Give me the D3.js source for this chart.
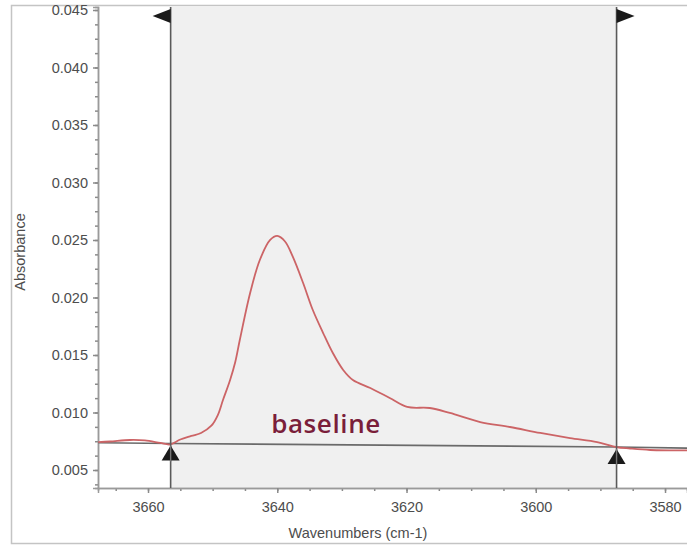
<!DOCTYPE html>
<html>
<head>
<meta charset="utf-8">
<script src="https://cdn.jsdelivr.net/npm/d3@7"></script>
<style>
body { margin: 0; background: #fff; }
svg { display: block; }
</style>
</head>
<body>
<div id="chart"></div>
<script>
// spectrum: wavenumber (cm-1), absorbance
let wavenumbers = [3667.7, 3665.9, 3662.8, 3660.5, 3658.1, 3656.6, 3655.0, 3653.3, 3651.8, 3650.2,
  3649.2, 3648.4, 3647.3, 3646.5, 3645.8, 3644.2, 3642.7, 3641.1, 3640.0, 3638.8,
  3637.6, 3636.0, 3634.5, 3632.9, 3631.4, 3629.8, 3628.3, 3625.6, 3622.6, 3619.9,
  3616.4, 3613.3, 3608.6, 3604.0, 3599.3, 3594.7, 3590.5, 3587.6, 3585.4, 3582.3, 3576.6];
let absorbance = [0.00743, 0.00748, 0.00761, 0.00757, 0.00735, 0.00722, 0.00765, 0.00796, 0.00822, 0.00885,
  0.00978, 0.01109, 0.01283, 0.01439, 0.01630, 0.02039, 0.02326, 0.02500, 0.02535, 0.02487,
  0.02355, 0.02126, 0.01891, 0.01691, 0.01517, 0.01370, 0.01283, 0.01213, 0.01126, 0.01048,
  0.01039, 0.00996, 0.00917, 0.00874, 0.00822, 0.00778, 0.00743, 0.00700, 0.00687, 0.00674, 0.00670];
let baselineWn = [3667.7, 3656.5, 3587.5, 3576.6];
let baselineAbs = [0.00737, 0.00731, 0.00700, 0.00690];
let regionLimits = [3656.5, 3587.5];
let xTicks = [3660, 3640, 3620, 3600, 3580];
let yTicks = [0.005, 0.010, 0.015, 0.020, 0.025, 0.030, 0.035, 0.040, 0.045];

let width = 687;
let height = 546;
let plotLeft = 98, plotRight = 687, plotTop = 7, plotBottom = 488;

let svg = d3.select("#chart")
  .append("svg")
  .attr("width", width)
  .attr("height", height);

// outer frame
svg.append("rect")
  .attr("x", 11.5).attr("y", 5.5)
  .attr("width", 700).attr("height", 538)
  .attr("fill", "#fff")
  .attr("stroke", "#c4c4c4")
  .attr("stroke-width", 1.5);

let x = d3.scaleLinear().domain([3667.74, 3576.6]).range([plotLeft, plotRight]);
let y = d3.scaleLinear().domain([0.003435, 0.04526]).range([plotBottom, plotTop]);

// shaded integration region
svg.append("rect")
  .attr("x", x(regionLimits[0]))
  .attr("y", plotTop)
  .attr("width", x(regionLimits[1]) - x(regionLimits[0]))
  .attr("height", plotBottom - plotTop)
  .attr("fill", "#f0f0f0");

// minor ticks
let xMinor = d3.range(3665, 3575, -5);
let yMinor = d3.range(0.00375, 0.0455, 0.00125);

let xAxisMinor = svg.append("g")
  .attr("transform", "translate(0," + plotBottom + ")")
  .call(d3.axisBottom(x).tickValues(xMinor).tickSize(3).tickFormat(""));
let yAxisMinor = svg.append("g")
  .attr("transform", "translate(" + plotLeft + ",0)")
  .call(d3.axisLeft(y).tickValues(yMinor).tickSize(3).tickFormat(""));

let xAxis = svg.append("g")
  .attr("transform", "translate(0," + plotBottom + ")")
  .call(d3.axisBottom(x).tickValues(xTicks).tickSize(5).tickPadding(9).tickFormat(d3.format("d")));
let yAxis = svg.append("g")
  .attr("transform", "translate(" + plotLeft + ",0)")
  .call(d3.axisLeft(y).tickValues(yTicks).tickSize(5).tickPadding(5).tickFormat(d3.format(".3f")));

[xAxis, yAxis, xAxisMinor, yAxisMinor].forEach(function(g) {
  g.select(".domain").attr("stroke", "#9a9a9a").attr("stroke-width", 1.5);
  g.selectAll(".tick line").attr("stroke", "#8a8a8a").attr("stroke-width", 1.5);
  g.selectAll(".tick text")
    .attr("fill", "#4d4d4d")
    .style("font-family", "'Liberation Sans', Arial, sans-serif")
    .style("font-size", "14.5px");
});

// baseline
let line = d3.line().x(function(d) { return x(d[0]); }).y(function(d) { return y(d[1]); });
svg.append("path")
  .datum(d3.zip(baselineWn, baselineAbs))
  .attr("d", line)
  .attr("fill", "none")
  .attr("stroke", "#6a6a6a")
  .attr("stroke-width", 1.6);

// spectrum
svg.append("path")
  .datum(d3.zip(wavenumbers, absorbance))
  .attr("d", line.curve(d3.curveCatmullRom))
  .attr("fill", "none")
  .attr("stroke", "#cc6466")
  .attr("stroke-width", 1.8);

// region limit lines and markers
regionLimits.forEach(function(w, i) {
  let px = x(w);
  svg.append("line")
    .attr("x1", px).attr("x2", px)
    .attr("y1", plotTop).attr("y2", plotBottom)
    .attr("stroke", "#5a5a5a")
    .attr("stroke-width", 1.6);
  let dir = i == 0 ? -1 : 1;
  svg.append("path")
    .attr("d", "M" + px + "," + (plotTop + 2) + "L" + (px + dir * 18) + "," + (plotTop + 9) + "L" + px + "," + (plotTop + 16) + "Z")
    .attr("fill", "#1a1a1a");
  let by = y(baselineAbs[i + 1]);
  svg.append("path")
    .attr("d", "M" + px + "," + (by + 2) + "L" + (px + 9) + "," + (by + 17) + "L" + (px - 9) + "," + (by + 17) + "Z")
    .attr("fill", "#1a1a1a");
  svg.append("line")
    .attr("x1", px).attr("x2", px)
    .attr("y1", by + 2).attr("y2", by + 18)
    .attr("stroke", "#777")
    .attr("stroke-width", 1.4);
});

// labels
svg.append("text")
  .attr("x", 326).attr("y", 433)
  .attr("text-anchor", "middle")
  .attr("fill", "#7a1e3a")
  .style("font-family", "'Open Sans', sans-serif")
  .style("font-size", "26px")
  .style("font-weight", "600")
  .style("letter-spacing", "0.6px")
  .text("baseline");

svg.append("text")
  .attr("x", 358).attr("y", 538)
  .attr("text-anchor", "middle")
  .attr("fill", "#4d4d4d")
  .style("font-family", "'Liberation Sans', Arial, sans-serif")
  .style("font-size", "14.5px")
  .text("Wavenumbers (cm-1)");

svg.append("text")
  .attr("transform", "translate(25,252) rotate(-90)")
  .attr("text-anchor", "middle")
  .attr("fill", "#4d4d4d")
  .style("font-family", "'Liberation Sans', Arial, sans-serif")
  .style("font-size", "14.5px")
  .text("Absorbance");
</script>
</body>
</html>
